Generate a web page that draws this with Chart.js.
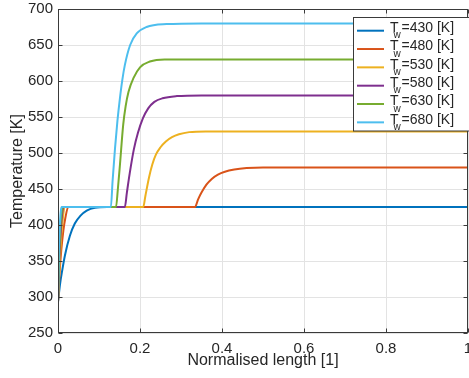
<!DOCTYPE html>
<html><head><meta charset="utf-8">
<script src="https://cdn.jsdelivr.net/npm/chart.js@4/dist/chart.umd.min.js"></script>
<style>html,body{margin:0;padding:0;background:#fff;overflow:hidden}</style></head>
<body><canvas id="c" width="469" height="378"></canvas>
<script>
const wallTemps = [430, 480, 530, 580, 630, 680];
const seriesColors = ['#0072BD', '#D95319', '#EDB120', '#7E2F8E', '#77AC30', '#4DBEEE'];

const x430 = [0, 0.005, 0.01, 0.017, 0.029, 0.041, 0.055, 0.07, 0.09, 0.12, 1];
const t430 = [293, 318, 336, 358, 385, 402, 413, 420, 424, 425, 425];

const x480 = [0, 0.004, 0.008, 0.013, 0.018, 0.025, 0.334, 0.342, 0.35, 0.362, 0.375, 0.39, 0.407, 0.43, 0.46, 0.5, 1];
const t480 = [293, 335, 365, 392, 410, 425, 425, 436, 445, 456, 464, 470, 474, 477, 479, 480, 480];

const x530 = [0, 0.004, 0.008, 0.012, 0.016, 0.208, 0.213, 0.222, 0.23, 0.239, 0.25, 0.263, 0.278, 0.295, 0.32, 0.36, 1];
const t530 = [293, 345, 385, 410, 425, 425, 440, 466, 484, 498, 508, 516, 522, 526, 529, 530, 530];

const x580 = [0, 0.003, 0.007, 0.01, 0.013, 0.163, 0.168, 0.175, 0.185, 0.195, 0.207, 0.22, 0.235, 0.255, 0.29, 0.35, 1];
const t580 = [293, 350, 395, 415, 425, 425, 445, 472, 505, 528, 548, 562, 571, 576, 579, 580, 580];

const x630 = [0, 0.003, 0.006, 0.009, 0.011, 0.1415, 0.146, 0.151, 0.159, 0.165, 0.172, 0.184, 0.2, 0.224, 0.26, 1];
const t630 = [293, 360, 400, 418, 425, 425, 450, 483, 539, 565, 585, 604, 619, 627, 630, 630];

const x680 = [0, 0.002, 0.005, 0.007, 0.009, 0.129, 0.133, 0.139, 0.145, 0.151, 0.157, 0.163, 0.176, 0.192, 0.216, 0.265, 0.35, 1];
const t680 = [293, 360, 405, 420, 425, 425, 460, 506, 545, 576, 602, 622, 650, 666, 675, 679, 680, 680];

const xTicks = [0, 0.2, 0.4, 0.6, 0.8, 1];
const yTicks = [250, 300, 350, 400, 450, 500, 550, 600, 650, 700];

const xSeries = [x430, x480, x530, x580, x630, x680];
const tSeries = [t430, t480, t530, t580, t630, t680];

const FONT = '"Liberation Sans", Arial, Helvetica, sans-serif';
const TXT = '#262626';
const GRID = '#e3e3e3';

const datasets = wallTemps.map((tw, i) => ({
  label: 'Tw=' + tw + ' [K]',
  data: xSeries[i].map((v, k) => ({x: v, y: tSeries[i][k]})),
  borderColor: seriesColors[i],
  backgroundColor: seriesColors[i],
  borderWidth: 2,
  pointRadius: 0,
  fill: false,
  cubicInterpolationMode: 'monotone',
  order: wallTemps.length - 1 - i
}));

const frame = {
  id: 'frame',
  afterDatasetsDraw(chart) {
    const {ctx, chartArea: a, scales} = chart;
    ctx.save();
    ctx.strokeStyle = '#3a3a3a';
    ctx.lineWidth = 1;
    const L = Math.round(a.left) + 0.5, R = Math.round(a.right) - 0.5;
    const T = Math.round(a.top) + 0.5, B = Math.round(a.bottom) - 0.5;
    ctx.strokeRect(L, T, R - L, B - T);
    ctx.beginPath();
    const tl = 4;
    xTicks.forEach(v => {
      const px = Math.round(scales.x.getPixelForValue(v)) + 0.5;
      ctx.moveTo(px, B); ctx.lineTo(px, B - tl);
      ctx.moveTo(px, T); ctx.lineTo(px, T + tl);
    });
    yTicks.forEach(v => {
      const py = Math.round(scales.y.getPixelForValue(v)) + 0.5;
      ctx.moveTo(L, py); ctx.lineTo(L + tl, py);
      ctx.moveTo(R, py); ctx.lineTo(R - tl, py);
    });
    ctx.stroke();
    ctx.restore();
  },
  afterDraw(chart) {
    const {ctx} = chart;
    ctx.save();
    const bx = 353.5, by = 17.5, bw = 130, bh = 113.5;
    ctx.fillStyle = '#fff';
    ctx.fillRect(bx, by, bw, bh);
    ctx.strokeStyle = '#3a3a3a';
    ctx.lineWidth = 1;
    ctx.strokeRect(bx, by, bw, bh);
    wallTemps.forEach((tw, i) => {
      const y = 30.7 + i * 18.33;
      ctx.strokeStyle = seriesColors[i];
      ctx.lineWidth = 2;
      ctx.beginPath();
      ctx.moveTo(357, y); ctx.lineTo(384, y);
      ctx.stroke();
      ctx.fillStyle = TXT;
      ctx.textBaseline = 'alphabetic';
      ctx.textAlign = 'left';
      ctx.font = '14px ' + FONT;
      ctx.fillText('T', 390, y + 1.2);
      ctx.font = '10px ' + FONT;
      ctx.fillText('w', 393.5, y + 7.5);
      ctx.font = '14px ' + FONT;
      ctx.fillText('=' + tw + ' [K]', 401.5, y + 1.2);
    });
    ctx.restore();
  }
};

new Chart(document.getElementById('c'), {
  type: 'line',
  data: {datasets},
  plugins: [frame],
  options: {
    responsive: false,
    animation: false,
    devicePixelRatio: 1,
    layout: {padding: {top: 9, right: 1, left: 0, bottom: 0}},
    plugins: {legend: {display: false}, tooltip: {enabled: false}},
    scales: {
      x: {
        type: 'linear', min: 0, max: 1,
        afterBuildTicks: s => { s.ticks = xTicks.map(v => ({value: v})); },
        ticks: {
          font: {family: FONT, size: 15}, color: TXT, padding: 7,
          maxRotation: 0, autoSkip: false,
          callback: v => String(v)
        },
        grid: {color: GRID, drawTicks: false, lineWidth: 1},
        border: {display: false},
        title: {display: true, text: 'Normalised length [1]', color: TXT,
                font: {family: FONT, size: 16}, padding: {top: 0, bottom: 8}},
        afterFit: s => { s.height = 45; s.paddingLeft = 0; s.paddingRight = 0; }
      },
      y: {
        type: 'linear', min: 250, max: 700,
        afterBuildTicks: s => { s.ticks = yTicks.map(v => ({value: v})); },
        ticks: {
          font: {family: FONT, size: 15}, color: TXT, padding: 5,
          autoSkip: false, callback: v => String(v)
        },
        grid: {color: GRID, drawTicks: false, lineWidth: 1},
        border: {display: false},
        title: {display: true, text: 'Temperature [K]', color: TXT,
                font: {family: FONT, size: 16}, padding: {top: 8, bottom: 0}},
        afterFit: s => { s.width = 58; s.paddingTop = 0; s.paddingBottom = 0; }
      }
    }
  }
});
</script>
</body></html>
